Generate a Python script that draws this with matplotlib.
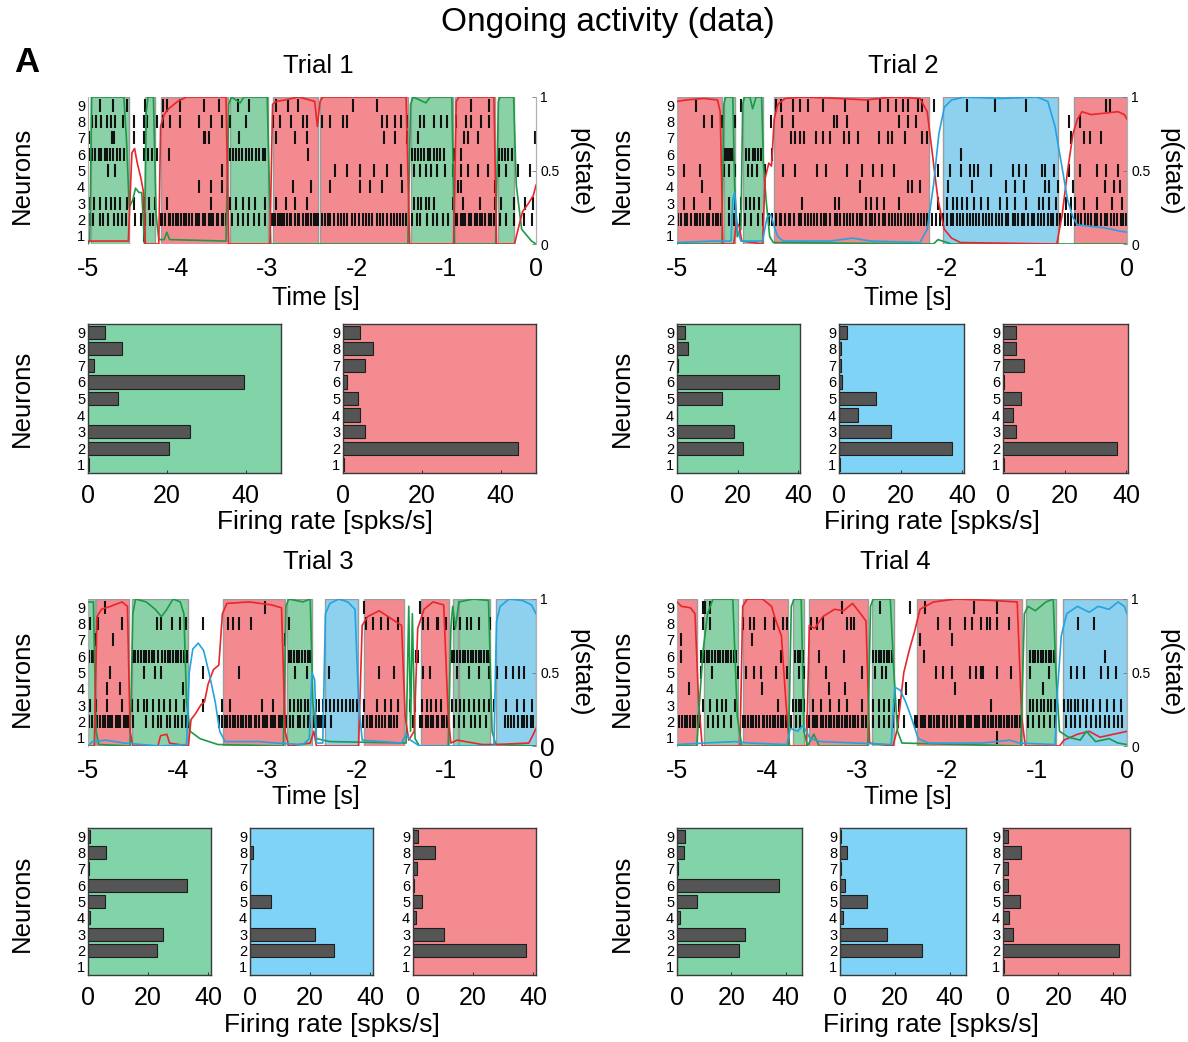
import numpy as np
import matplotlib.pyplot as plt

plt.rcParams['font.family'] = ['Liberation Sans', 'DejaVu Sans']

W, H = 1188, 1042

# state colours (shading / panel background) and p(state) line colours
SHADE = {'g': '#8bd1a7', 'r': '#f38a8f', 'b': '#8dd1ee'}
PANEL = {'g': '#80d4a8', 'r': '#f38b90', 'b': '#7fd3f6'}
LINE = {'g': '#1c9a45', 'r': '#e8262b', 'b': '#25a3e0'}

neurons = [1, 2, 3, 4, 5, 6, 7, 8, 9]
time_ticks = [-5, -4, -3, -2, -1, 0]

# ---------------- Trial 1 ----------------
t1_states = [(-4.97, -4.54, 'g'), (-4.36, -4.25, 'g'), (-4.19, -3.44, 'r'), (-3.42, -2.99, 'g'),
             (-2.94, -2.43, 'r'), (-2.41, -1.43, 'r'), (-1.40, -0.93, 'g'), (-0.90, -0.46, 'r'),
             (-0.42, -0.24, 'g')]
t1_spikes = {
    9: [-4.87, -4.72, -4.57, -4.36, -4.16, -4.12, -3.97, -3.71, -3.54, -3.33, -3.20, -2.90, -2.77,
        -2.66, -2.04, -1.77, -0.72, -0.52],
    8: [-4.96, -4.91, -4.85, -4.79, -4.74, -4.70, -4.61, -4.49, -4.38, -4.34, -4.23, -4.16, -4.08,
        -3.97, -3.76, -3.63, -3.51, -3.41, -3.24, -2.94, -2.86, -2.73, -2.60, -2.56, -2.39, -2.30,
        -2.15, -2.11, -1.72, -1.66, -1.57, -1.51, -1.44, -1.29, -1.25, -1.14, -1.06, -0.99, -0.89,
        -0.78, -0.72, -0.61, -0.52],
    7: [-4.99, -4.73, -4.71, -4.49, -4.37, -3.71, -3.69, -3.65, -3.31, -2.90, -2.69, -2.56, -1.70,
        -1.57, -1.44, -1.32, -0.80, -0.76, -0.65, -0.01],
    6: [-4.99, -4.96, -4.92, -4.88, -4.85, -4.81, -4.79, -4.75, -4.72, -4.68, -4.64, -4.60, -4.37,
        -4.33, -4.29, -4.23, -4.10, -3.41, -3.38, -3.35, -3.31, -3.28, -3.24, -3.20, -3.17, -3.13,
        -3.09, -3.05, -3.02, -2.54, -1.38, -1.35, -1.32, -1.28, -1.25, -1.21, -1.18, -1.14, -1.11,
        -1.07, -1.03, -0.91, -0.84, -0.41, -0.38, -0.35, -0.31, -0.27],
    5: [-4.78, -4.70, -3.50, -2.24, -2.11, -1.96, -1.81, -1.66, -1.51, -1.36, -1.29, -1.23, -1.17,
        -1.10, -1.02, -0.93, -0.84, -0.76, -0.65, -0.54, -0.41, -0.33, -0.20, -0.07],
    4: [-3.76, -3.63, -3.50, -2.71, -2.51, -2.30, -1.96, -1.85, -1.72, -1.49, -0.87, -0.84, -0.46],
    3: [-4.99, -4.93, -4.87, -4.80, -4.74, -4.70, -4.64, -4.57, -4.49, -4.38, -4.32, -4.25, -4.12,
        -3.63, -3.41, -3.35, -3.27, -3.20, -3.14, -3.03, -2.90, -2.79, -2.69, -2.56, -1.36, -1.32,
        -1.28, -1.23, -1.19, -1.14, -0.93, -0.82, -0.63, -0.46, -0.39, -0.24, -0.12, -0.03],
    2: [-4.98, -4.94, -4.87, -4.83, -4.78, -4.71, -4.67, -4.62, -4.58, -4.47, -4.41, -4.36, -4.31,
        -4.27, -4.19, -4.17, -4.14, -4.10, -4.08, -4.05, -4.02, -4.00, -3.96, -3.93, -3.91, -3.87,
        -3.84, -3.80, -3.78, -3.76, -3.72, -3.69, -3.65, -3.63, -3.60, -3.56, -3.55, -3.51, -3.49,
        -3.46, -3.39, -3.33, -3.27, -3.21, -3.15, -3.09, -3.03, -2.96, -2.94, -2.91, -2.88, -2.86,
        -2.83, -2.81, -2.78, -2.75, -2.73, -2.69, -2.66, -2.64, -2.60, -2.57, -2.55, -2.51, -2.48,
        -2.45, -2.43, -2.39, -2.36, -2.32, -2.30, -2.26, -2.21, -2.18, -2.14, -2.11, -2.05, -2.02,
        -1.98, -1.93, -1.90, -1.86, -1.83, -1.78, -1.74, -1.71, -1.66, -1.62, -1.59, -1.55, -1.52,
        -1.48, -1.45, -1.38, -1.33, -1.30, -1.22, -1.15, -1.10, -1.04, -0.98, -0.90, -0.88, -0.84,
        -0.81, -0.79, -0.75, -0.72, -0.68, -0.66, -0.62, -0.60, -0.57, -0.53, -0.50, -0.47, -0.40,
        -0.33, -0.25, -0.13, -0.05],
    1: [-4.37],
}
t1_p = {
    'g': [(-5.0, 0.0), (-4.98, 0.02), (-4.96, 1.0), (-4.60, 1.0), (-4.57, 0.7), (-4.54, 0.25),
          (-4.50, 0.3), (-4.47, 0.38), (-4.43, 0.35), (-4.40, 0.35), (-4.37, 0.0), (-4.35, 0.9),
          (-4.33, 1.0), (-4.27, 1.0), (-4.24, 0.2), (-4.21, 0.03), (-4.15, 0.03), (-4.12, 0.08),
          (-4.09, 0.03), (-3.46, 0.02), (-3.43, 0.95), (-3.40, 1.0), (-3.30, 0.96), (-3.26, 1.0),
          (-3.00, 1.0), (-2.96, 0.0), (-1.43, 0.0), (-1.40, 0.95), (-1.37, 1.0), (-1.23, 0.96),
          (-1.18, 1.0), (-0.94, 1.0), (-0.91, 0.0), (-0.45, 0.0), (-0.42, 0.97), (-0.40, 1.0),
          (-0.25, 1.0), (-0.22, 0.4), (-0.16, 0.1), (-0.05, 0.02), (0.0, 0.0)],
    'r': [(-5.0, 0.02), (-4.55, 0.02), (-4.51, 0.62), (-4.48, 0.65), (-4.45, 0.55), (-4.41, 0.45),
          (-4.38, 0.35), (-4.36, 0.0), (-4.21, 0.0), (-4.19, 0.8), (-4.15, 0.88), (-4.10, 0.92),
          (-4.0, 0.97), (-3.90, 1.0), (-3.46, 1.0), (-3.43, 0.0), (-2.97, 0.0), (-2.94, 0.95),
          (-2.90, 0.97), (-2.80, 0.98), (-2.65, 1.0), (-2.47, 0.97), (-2.44, 0.8), (-2.41, 0.97),
          (-2.38, 1.0), (-1.45, 1.0), (-1.41, 0.0), (-0.92, 0.0), (-0.89, 0.97), (-0.86, 1.0),
          (-0.47, 1.0), (-0.44, 0.0), (-0.24, 0.0), (-0.20, 0.1), (-0.15, 0.22), (-0.08, 0.28),
          (-0.03, 0.33), (0.0, 0.4)],
}
t1_rates = {
    'g': [0.3, 20.6, 25.8, 0.0, 7.6, 39.5, 1.5, 8.6, 4.4],
    'r': [0.2, 44.5, 5.6, 4.3, 3.9, 1.1, 5.7, 7.7, 4.4],
}

# ---------------- Trial 2 ----------------
t2_states = [(-5.0, -4.50, 'r'), (-4.48, -4.36, 'g'), (-4.27, -4.05, 'g'), (-3.92, -2.20, 'r'),
             (-2.05, -0.77, 'b'), (-0.59, 0.0, 'r')]
t2_spikes = {
    9: [-4.79, -4.29, -3.90, -3.84, -3.71, -3.63, -3.55, -3.38, -3.13, -2.88, -2.74, -2.66, -2.57,
        -2.49, -2.43, -2.32, -2.28, -2.14, -1.78, -1.47, -1.12, -0.23, -0.19],
    8: [-4.70, -4.61, -4.50, -4.36, -3.96, -3.83, -3.71, -3.26, -3.22, -3.11, -2.53, -2.43, -2.34,
        -0.64, -0.52],
    7: [-3.73, -3.69, -3.63, -3.59, -3.46, -3.38, -3.30, -3.15, -3.09, -2.99, -2.76, -2.66, -2.61,
        -2.47, -2.28, -2.22, -0.62, -0.48, -0.41, -0.29],
    6: [-4.48, -4.46, -4.44, -4.42, -4.40, -4.38, -4.23, -4.20, -4.16, -4.13, -4.10, -4.07, -3.94,
        -1.85],
    5: [-4.92, -4.75, -4.48, -4.42, -4.36, -4.21, -4.17, -4.11, -4.02, -3.82, -3.69, -3.44, -3.34,
        -3.11, -2.95, -2.82, -2.72, -2.59, -2.10, -1.97, -1.85, -1.74, -1.70, -1.66, -1.51, -1.27,
        -1.20, -1.12, -0.95, -0.91, -0.81, -0.64, -0.52, -0.33, -0.23, -0.10],
    4: [-4.72, -2.97, -2.43, -2.39, -2.30, -1.99, -1.72, -1.35, -1.24, -1.14, -0.91, -0.87, -0.77,
        -0.60, -0.25, -0.15, -0.08],
    3: [-4.92, -4.81, -4.63, -4.42, -4.36, -4.29, -4.23, -4.19, -4.15, -4.09, -3.61, -3.24, -3.20,
        -2.90, -2.84, -2.78, -2.70, -2.53, -2.10, -2.00, -1.93, -1.89, -1.83, -1.78, -1.70, -1.62,
        -1.54, -1.41, -1.33, -1.24, -1.12, -0.98, -0.93, -0.87, -0.79, -0.68, -0.62, -0.58, -0.48,
        -0.33, -0.17, -0.06],
    2: [-4.99, -4.96, -4.91, -4.89, -4.85, -4.80, -4.78, -4.74, -4.71, -4.67, -4.64, -4.60, -4.57,
        -4.55, -4.51, -4.42, -4.37, -4.30, -4.25, -4.18, -4.10, -4.05, -3.98, -3.95, -3.90, -3.86,
        -3.84, -3.80, -3.76, -3.74, -3.70, -3.65, -3.62, -3.58, -3.55, -3.51, -3.48, -3.45, -3.40,
        -3.37, -3.34, -3.30, -3.25, -3.22, -3.19, -3.15, -3.11, -3.08, -3.05, -3.00, -2.97, -2.94,
        -2.90, -2.86, -2.83, -2.80, -2.76, -2.71, -2.69, -2.65, -2.61, -2.58, -2.54, -2.51, -2.47,
        -2.43, -2.40, -2.37, -2.32, -2.29, -2.26, -2.22, -2.17, -2.12, -2.08, -2.04, -2.00, -1.96,
        -1.93, -1.89, -1.86, -1.82, -1.78, -1.75, -1.71, -1.68, -1.64, -1.60, -1.57, -1.53, -1.50,
        -1.46, -1.42, -1.39, -1.35, -1.32, -1.27, -1.25, -1.21, -1.17, -1.14, -1.10, -1.06, -1.03,
        -0.99, -0.96, -0.92, -0.88, -0.85, -0.82, -0.78, -0.74, -0.69, -0.66, -0.62, -0.58, -0.54,
        -0.51, -0.47, -0.43, -0.40, -0.36, -0.33, -0.29, -0.25, -0.22, -0.18, -0.15, -0.11, -0.07,
        -0.04, -0.01],
    1: [],
}
t2_p = {
    'g': [(-5.0, 0.0), (-4.50, 0.0), (-4.48, 0.95), (-4.46, 1.0), (-4.38, 1.0), (-4.36, 0.4),
          (-4.33, 0.05), (-4.29, 0.1), (-4.27, 0.95), (-4.25, 1.0), (-4.19, 1.0), (-4.16, 0.92),
          (-4.12, 1.0), (-4.06, 1.0), (-4.04, 0.55), (-4.01, 0.3), (-3.97, 0.05), (-3.93, 0.01),
          (-2.15, 0.0), (-2.10, 0.03), (-2.05, 0.02), (-1.95, 0.0), (0.0, 0.0)],
    'r': [(-5.0, 0.97), (-4.9, 0.98), (-4.7, 0.99), (-4.55, 0.98), (-4.52, 0.9), (-4.49, 0.0),
          (-4.37, 0.0), (-4.34, 0.15), (-4.31, 0.12), (-4.28, 0.02), (-4.05, 0.0), (-4.02, 0.45),
          (-3.98, 0.55), (-3.95, 0.53), (-3.92, 0.85), (-3.88, 0.95), (-3.80, 0.99), (-3.6, 1.0),
          (-3.2, 0.99), (-2.9, 0.98), (-2.6, 1.0), (-2.3, 0.99), (-2.22, 0.9), (-2.16, 0.6),
          (-2.10, 0.3), (-2.03, 0.1), (-1.95, 0.04), (-1.85, 0.01), (-0.78, 0.0), (-0.72, 0.2),
          (-0.66, 0.5), (-0.60, 0.75), (-0.55, 0.85), (-0.50, 0.9), (-0.40, 0.88), (-0.25, 0.89),
          (-0.10, 0.90), (-0.03, 0.88), (0.0, 0.85)],
    'b': [(-5.0, 0.01), (-4.6, 0.02), (-4.40, 0.02), (-4.38, 0.3), (-4.36, 0.35), (-4.33, 0.1),
          (-4.29, 0.02), (-4.05, 0.02), (-4.00, 0.18), (-3.96, 0.2), (-3.92, 0.12), (-3.88, 0.05),
          (-3.82, 0.02), (-3.3, 0.02), (-3.05, 0.04), (-2.85, 0.02), (-2.30, 0.01), (-2.22, 0.1),
          (-2.15, 0.4), (-2.09, 0.75), (-2.03, 0.93), (-1.95, 0.98), (-1.8, 1.0), (-1.4, 0.99),
          (-1.0, 1.0), (-0.88, 0.97), (-0.80, 0.8), (-0.73, 0.55), (-0.66, 0.3), (-0.60, 0.18),
          (-0.55, 0.13), (-0.40, 0.12), (-0.25, 0.11), (-0.10, 0.09), (0.0, 0.08)],
}
t2_rates = {
    'g': [0.0, 21.6, 18.9, 0.0, 14.7, 33.5, 0.2, 3.5, 2.6],
    'b': [0.2, 36.5, 16.8, 6.2, 12.1, 1.0, 0.6, 0.5, 2.5],
    'r': [0.3, 37.0, 4.1, 3.2, 5.8, 0.2, 6.7, 4.1, 4.3],
}

# ---------------- Trial 3 ----------------
t3_states = [(-5.0, -4.92, 'g'), (-4.91, -4.54, 'r'), (-4.51, -3.88, 'g'), (-3.49, -2.80, 'r'),
             (-2.78, -2.50, 'g'), (-2.36, -1.99, 'b'), (-1.92, -1.47, 'r'), (-1.28, -0.97, 'r'),
             (-0.93, -0.87, 'g'), (-0.86, -0.51, 'g'), (-0.45, 0.0, 'b')]
t3_spikes = {
    9: [-4.81, -3.03, -1.92, -1.30],
    8: [-4.98, -4.89, -4.62, -4.23, -4.19, -4.06, -3.97, -3.91, -3.72, -3.44, -3.38, -3.31, -3.18,
        -2.76, -1.90, -1.82, -1.73, -1.65, -1.54, -1.26, -1.20, -1.11, -1.09, -1.00, -0.92, -0.85,
        -0.77, -0.73, -0.64, -0.51],
    7: [-4.92, -4.72, -2.80],
    6: [-4.99, -4.96, -4.93, -4.50, -4.47, -4.44, -4.41, -4.38, -4.35, -4.32, -4.29, -4.26, -4.22,
        -4.17, -4.14, -4.11, -4.08, -4.05, -4.02, -3.99, -3.96, -3.93, -3.90, -2.76, -2.73, -2.70,
        -2.67, -2.64, -2.61, -2.58, -2.55, -2.52, -1.34, -1.32, -0.94, -0.91, -0.88, -0.85, -0.82,
        -0.79, -0.76, -0.73, -0.70, -0.67, -0.64, -0.61, -0.58, -0.55, -0.52],
    5: [-4.76, -4.37, -4.25, -4.19, -3.72, -3.31, -2.69, -2.56, -2.31, -1.75, -1.58, -1.26, -1.18,
        -0.88, -0.75, -0.64, -0.53, -0.43, -0.34, -0.26, -0.19, -0.13],
    4: [-4.79, -4.64, -3.94],
    3: [-4.98, -4.91, -4.79, -4.62, -4.51, -4.44, -4.38, -4.34, -4.27, -4.21, -4.15, -4.08, -4.02,
        -3.93, -3.72, -3.50, -3.42, -3.06, -2.93, -2.74, -2.70, -2.66, -2.62, -2.58, -2.54, -2.46,
        -2.42, -2.38, -2.34, -2.30, -2.26, -2.21, -2.16, -2.12, -2.08, -2.04, -2.00, -1.92, -1.77,
        -1.69, -1.62, -1.54, -1.41, -1.35, -1.27, -1.22, -1.17, -1.12, -1.06, -0.94, -0.89, -0.85,
        -0.80, -0.75, -0.69, -0.64, -0.58, -0.53, -0.47, -0.34, -0.21, -0.13, -0.04],
    2: [-4.99, -4.96, -4.92, -4.90, -4.87, -4.83, -4.81, -4.78, -4.75, -4.73, -4.69, -4.67, -4.64,
        -4.60, -4.58, -4.55, -4.53, -4.50, -4.35, -4.27, -4.22, -4.18, -4.12, -4.08, -4.03, -3.99,
        -3.95, -3.91, -3.88, -3.54, -3.51, -3.47, -3.45, -3.42, -3.38, -3.36, -3.33, -3.29, -3.27,
        -3.24, -3.20, -3.18, -3.14, -3.12, -3.09, -3.05, -3.03, -3.00, -2.96, -2.94, -2.91, -2.87,
        -2.85, -2.82, -2.79, -2.75, -2.71, -2.66, -2.63, -2.59, -2.55, -2.52, -2.48, -2.46, -2.44,
        -2.42, -2.40, -2.38, -2.36, -2.29, -1.93, -1.89, -1.85, -1.83, -1.79, -1.75, -1.72, -1.69,
        -1.64, -1.62, -1.58, -1.55, -1.37, -1.30, -1.27, -1.23, -1.21, -1.17, -1.15, -1.11, -1.09,
        -1.05, -1.03, -0.99, -0.92, -0.86, -0.80, -0.73, -0.68, -0.62, -0.56, -0.35, -0.31, -0.28,
        -0.24, -0.20, -0.16, -0.13, -0.10, -0.06, -0.03],
    1: [],
}
t3_p = {
    'g': [(-5.0, 0.98), (-4.94, 0.98), (-4.91, 0.1), (-4.88, 0.01), (-4.53, 0.0), (-4.50, 0.9),
          (-4.47, 1.0), (-4.35, 0.98), (-4.25, 0.93), (-4.18, 0.88), (-4.12, 0.93), (-4.05, 1.0),
          (-3.97, 0.98), (-3.93, 0.9), (-3.90, 0.3), (-3.86, 0.1), (-3.75, 0.05), (-3.55, 0.01),
          (-2.82, 0.0), (-2.79, 0.95), (-2.76, 1.0), (-2.60, 0.98), (-2.52, 1.0), (-2.49, 0.3),
          (-2.45, 0.05), (-2.30, 0.03), (-1.45, 0.02), (-1.42, 0.95), (-1.40, 0.1), (-1.38, 0.9),
          (-1.35, 0.05), (-1.30, 0.0), (-0.98, 0.0), (-0.95, 0.8), (-0.93, 0.95), (-0.90, 0.8),
          (-0.86, 0.98), (-0.70, 1.0), (-0.53, 0.99), (-0.49, 0.1), (-0.45, 0.01), (0.0, 0.0)],
    'r': [(-5.0, 0.0), (-4.93, 0.0), (-4.90, 0.88), (-4.85, 0.93), (-4.75, 0.95), (-4.62, 0.98),
          (-4.56, 0.95), (-4.53, 0.1), (-4.50, 0.0), (-4.22, 0.0), (-4.19, 0.07), (-4.12, 0.08),
          (-4.09, 0.02), (-3.88, 0.0), (-3.85, 0.18), (-3.80, 0.22), (-3.74, 0.28), (-3.70, 0.3),
          (-3.66, 0.42), (-3.60, 0.52), (-3.54, 0.55), (-3.50, 0.9), (-3.45, 0.97), (-3.2, 0.98),
          (-2.95, 0.96), (-2.84, 0.94), (-2.80, 0.1), (-2.76, 0.0), (-2.52, 0.02), (-2.48, 0.1),
          (-2.45, 0.0), (-1.98, 0.0), (-1.94, 0.82), (-1.88, 0.88), (-1.75, 0.92), (-1.60, 0.86),
          (-1.50, 0.82), (-1.46, 0.2), (-1.42, 0.04), (-1.36, 0.1), (-1.32, 0.8), (-1.25, 0.93),
          (-1.15, 0.98), (-1.03, 0.96), (-0.98, 0.2), (-0.95, 0.02), (-0.88, 0.04), (-0.60, 0.01),
          (-0.45, 0.01), (-0.08, 0.02), (-0.03, 0.08), (0.0, 0.12)],
    'b': [(-5.0, 0.0), (-4.95, 0.03), (-4.80, 0.04), (-4.60, 0.02), (-4.2, 0.0), (-3.90, 0.01),
          (-3.87, 0.5), (-3.83, 0.66), (-3.77, 0.7), (-3.71, 0.65), (-3.65, 0.5), (-3.58, 0.3),
          (-3.53, 0.1), (-3.47, 0.03), (-3.1, 0.03), (-2.9, 0.02), (-2.6, 0.01), (-2.53, 0.05),
          (-2.50, 0.5), (-2.47, 0.45), (-2.45, 0.02), (-2.38, 0.02), (-2.35, 0.9), (-2.30, 0.97),
          (-2.2, 1.0), (-2.1, 0.98), (-2.02, 0.93), (-1.98, 0.3), (-1.94, 0.04), (-1.5, 0.02),
          (-1.45, 0.08), (-1.40, 0.04), (-1.3, 0.0), (-0.47, 0.0), (-0.44, 0.85), (-0.40, 0.95),
          (-0.30, 1.0), (-0.15, 0.99), (-0.05, 0.96), (0.0, 0.9)],
}
t3_rates = {
    'g': [0.0, 23.0, 25.0, 0.5, 5.6, 33.0, 0.3, 6.1, 0.5],
    'b': [0.0, 28.0, 21.5, 0.0, 7.0, 0.0, 0.0, 1.0, 0.0],
    'r': [0.0, 37.5, 10.2, 0.9, 3.0, 0.3, 1.2, 7.2, 1.7],
}

# ---------------- Trial 4 ----------------
t4_states = [(-5.0, -4.78, 'r'), (-4.70, -4.32, 'g'), (-4.27, -3.77, 'r'), (-3.71, -3.59, 'g'),
             (-3.53, -2.88, 'r'), (-2.83, -2.59, 'g'), (-2.33, -1.17, 'r'), (-1.12, -0.79, 'g'),
             (-0.71, 0.0, 'b')]
t4_spikes = {
    9: [-4.71, -4.69, -4.63, -3.17, -2.74, -2.41, -2.24, -1.70, -1.45],
    8: [-4.71, -4.63, -4.27, -4.19, -4.15, -4.02, -3.92, -3.82, -3.78, -3.51, -3.44, -3.38, -3.11,
        -3.07, -3.03, -2.10, -1.97, -1.80, -1.72, -1.62, -1.56, -1.52, -1.45, -1.31, -0.54, -0.37],
    7: [-4.96, -4.17, -2.30, -1.95],
    6: [-4.96, -4.73, -4.70, -4.67, -4.64, -4.61, -4.58, -4.55, -4.52, -4.49, -4.46, -4.43, -4.40,
        -4.37, -4.34, -3.84, -3.69, -3.66, -3.63, -3.60, -3.42, -3.15, -2.82, -2.79, -2.76, -2.73,
        -2.70, -2.67, -2.64, -2.61, -2.26, -1.08, -1.05, -1.02, -0.99, -0.96, -0.93, -0.90, -0.87,
        -0.84, -0.81, -0.25],
    5: [-4.73, -4.61, -4.32, -4.23, -4.15, -4.07, -3.90, -3.78, -3.65, -3.59, -3.34, -2.95, -2.80,
        -2.72, -2.68, -2.12, -2.05, -1.95, -1.74, -1.68, -1.62, -1.60, -1.45, -1.29, -1.08, -0.87,
        -0.62, -0.56, -0.48, -0.29, -0.21, -0.12],
    4: [-4.87, -4.06, -3.31, -3.13, -2.46, -1.91, -0.93],
    3: [-4.71, -4.63, -4.56, -4.50, -4.46, -4.36, -3.88, -3.71, -3.68, -3.65, -3.62, -3.59, -3.49,
        -3.40, -3.30, -3.20, -3.11, -2.95, -2.82, -2.76, -2.70, -2.64, -2.59, -2.53, -1.51, -1.08,
        -1.04, -1.00, -0.96, -0.92, -0.88, -0.84, -0.80, -0.70, -0.66, -0.62, -0.58, -0.54, -0.49,
        -0.44, -0.38, -0.30, -0.22, -0.14, -0.07],
    2: [-4.98, -4.95, -4.91, -4.89, -4.86, -4.82, -4.80, -4.77, -4.74, -4.66, -4.60, -4.55, -4.48,
        -4.40, -4.27, -4.25, -4.21, -4.18, -4.16, -4.12, -4.09, -4.05, -4.03, -4.00, -3.97, -3.93,
        -3.91, -3.88, -3.84, -3.82, -3.79, -3.73, -3.68, -3.63, -3.56, -3.53, -3.49, -3.47, -3.44,
        -3.40, -3.38, -3.35, -3.31, -3.29, -3.26, -3.22, -3.20, -3.17, -3.13, -3.11, -3.08, -3.04,
        -3.02, -2.99, -2.95, -2.93, -2.90, -2.82, -2.76, -2.70, -2.64, -2.60, -2.55, -2.48, -2.36,
        -2.33, -2.29, -2.27, -2.24, -2.20, -2.18, -2.15, -2.11, -2.09, -2.05, -2.03, -2.00, -1.96,
        -1.94, -1.91, -1.87, -1.85, -1.82, -1.78, -1.76, -1.73, -1.69, -1.67, -1.64, -1.60, -1.58,
        -1.55, -1.51, -1.49, -1.46, -1.42, -1.40, -1.37, -1.33, -1.31, -1.28, -1.24, -1.22, -1.19,
        -1.10, -1.04, -0.98, -0.92, -0.86, -0.80, -0.68, -0.62, -0.58, -0.52, -0.46, -0.40, -0.35,
        -0.30, -0.25, -0.20, -0.15, -0.10, -0.06],
    1: [-1.45],
}
t4_p = {
    'r': [(-5.0, 0.98), (-4.95, 0.95), (-4.85, 0.94), (-4.80, 0.9), (-4.76, 0.3), (-4.72, 0.0),
          (-4.30, 0.0), (-4.27, 0.95), (-4.22, 1.0), (-4.05, 1.0), (-3.95, 0.95), (-3.90, 0.85),
          (-3.84, 0.75), (-3.79, 0.3), (-3.75, 0.0), (-3.56, 0.0), (-3.53, 0.82), (-3.47, 0.8),
          (-3.38, 0.88), (-3.25, 0.93), (-3.15, 0.92), (-3.05, 0.97), (-2.96, 0.9), (-2.90, 0.85),
          (-2.86, 0.02), (-2.60, 0.0), (-2.55, 0.12), (-2.48, 0.5), (-2.42, 0.65), (-2.36, 0.78),
          (-2.30, 0.93), (-2.15, 0.98), (-1.9, 1.0), (-1.5, 0.99), (-1.22, 0.98), (-1.17, 0.2),
          (-1.13, 0.0), (-0.75, 0.0), (-0.70, 0.04), (-0.55, 0.08), (-0.42, 0.1), (-0.30, 0.06),
          (-0.15, 0.08), (0.0, 0.1)],
    'g': [(-5.0, 0.0), (-4.78, 0.0), (-4.75, 0.3), (-4.71, 0.65), (-4.66, 0.9), (-4.60, 1.0),
          (-4.38, 1.0), (-4.33, 0.2), (-4.28, 0.0), (-3.76, 0.0), (-3.73, 0.95), (-3.70, 1.0),
          (-3.62, 1.0), (-3.59, 0.1), (-3.55, 0.0), (-3.48, 0.08), (-3.42, 0.0), (-2.88, 0.0),
          (-2.85, 0.95), (-2.82, 1.0), (-2.63, 1.0), (-2.59, 0.5), (-2.55, 0.1), (-2.50, 0.02),
          (-1.18, 0.0), (-1.14, 0.9), (-1.10, 0.95), (-1.02, 0.92), (-0.90, 0.98), (-0.82, 1.0),
          (-0.79, 0.5), (-0.75, 0.1), (-0.65, 0.06), (-0.52, 0.04), (-0.45, 0.1), (-0.35, 0.03),
          (-0.20, 0.05), (-0.10, 0.02), (0.0, 0.01)],
    'b': [(-5.0, 0.01), (-4.7, 0.02), (-4.35, 0.03), (-4.2, 0.02), (-3.78, 0.01), (-3.74, 0.12),
          (-3.66, 0.1), (-3.60, 0.14), (-3.52, 0.05), (-3.4, 0.03), (-3.0, 0.02), (-2.62, 0.01),
          (-2.58, 0.4), (-2.52, 0.38), (-2.46, 0.3), (-2.40, 0.2), (-2.32, 0.05), (-2.2, 0.02),
          (-1.6, 0.02), (-1.3, 0.04), (-1.2, 0.02), (-0.80, 0.01), (-0.77, 0.4), (-0.73, 0.75),
          (-0.67, 0.9), (-0.55, 0.95), (-0.42, 0.91), (-0.32, 0.95), (-0.20, 0.93), (-0.10, 0.98),
          (-0.03, 0.95), (0.0, 0.9)],
}
t4_rates = {
    'g': [0.0, 22.8, 24.9, 1.1, 7.3, 37.7, 0.2, 2.5, 2.8],
    'b': [0.0, 29.8, 17.2, 1.2, 9.7, 2.0, 0.3, 2.4, 0.5],
    'r': [0.3, 42.0, 3.7, 2.0, 6.0, 1.8, 1.8, 6.4, 1.7],
}


def box(x0, y0, x1, y1):
    return [x0 / W, 1 - y1 / H, (x1 - x0) / W, (y1 - y0) / H]


def ftext(x, y, s, **kw):
    fig.text(x / W, 1 - y / H, s, ha='center', va='center', **kw)


def raster(rect, states, spikes, plines, big_zero=False):
    ax = fig.add_axes(box(*rect))
    for a, b, s in states:
        ax.axvspan(a, b, facecolor=SHADE[s], edgecolor='#9c9c9c', lw=1.0, zorder=0)
    for n in neurons:
        ax.vlines(spikes[n], n - 0.4, n + 0.4, color='#111111', lw=1.5, zorder=2)
    ax.set_xlim(-5, 0)
    ax.set_ylim(0.5, 9.5)
    ax.set_yticks(neurons)
    ax.tick_params(axis='y', length=0, labelsize=10.5, pad=2)
    ax.set_xticks(time_ticks)
    ax.set_xticklabels([str(t) for t in time_ticks])
    ax.tick_params(axis='x', length=0, labelsize=18, pad=9)
    for side in ['top', 'bottom']:
        ax.spines[side].set_visible(False)
    ax.spines['left'].set_color('#b0b0b0')
    ax.spines['right'].set_color('#b0b0b0')

    ax2 = ax.twinx()
    for s, pts in plines.items():
        tt = [p[0] for p in pts]
        pp = [p[1] for p in pts]
        ax2.plot(tt, pp, color=LINE[s], lw=1.2)
    ax2.set_ylim(0, 1)
    ax2.set_yticks([0, 0.5, 1])
    ax2.set_yticklabels(['0', '0.5', '1'])
    ax2.tick_params(axis='y', direction='in', length=3, width=0.6, color='#777777',
                    labelsize=10, pad=3)
    if big_zero:
        ax2.get_yticklabels()[0].set_fontsize(19)
    for side in ['top', 'bottom', 'left']:
        ax2.spines[side].set_visible(False)
    ax2.spines['right'].set_color('#b0b0b0')
    return ax


def rates(rects, rate_sets, xmax):
    for rect, (s, vals) in zip(rects, rate_sets):
        ax = fig.add_axes(box(*rect))
        ax.set_facecolor(PANEL[s])
        ax.barh(neurons, vals, height=0.8, color='#555555', edgecolor='#1e1e1e', lw=0.8)
        ax.set_xlim(0, xmax)
        ax.set_ylim(0.5, 9.5)
        ax.set_yticks(neurons)
        ax.set_xticks([0, 20, 40])
        ax.tick_params(axis='y', length=0, labelsize=10.5, pad=2)
        ax.tick_params(axis='x', direction='in', length=2, width=0.5, labelsize=18, pad=8)
        for sp in ax.spines.values():
            sp.set_color('#3a3a3a')
            sp.set_linewidth(1.0)


fig = plt.figure(figsize=(W / 100, H / 100), dpi=100)

ftext(608, 22, 'Ongoing activity (data)', fontsize=24)
fig.text(14 / W, 1 - 62 / H, 'A', ha='left', va='center', fontsize=25, fontweight='bold',
         family=['Liberation Sans Narrow', 'Liberation Sans', 'DejaVu Sans'])

# trial titles
ftext(318, 66, 'Trial 1', fontsize=18.5)
ftext(903, 66, 'Trial 2', fontsize=18.5)
ftext(318, 562, 'Trial 3', fontsize=18.5)
ftext(895, 562, 'Trial 4', fontsize=18.5)

raster((88, 97, 536, 244), t1_states, t1_spikes, t1_p)
raster((677, 97, 1127, 244), t2_states, t2_spikes, t2_p)
raster((88, 599, 536, 746), t3_states, t3_spikes, t3_p, big_zero=True)
raster((677, 599, 1127, 746), t4_states, t4_spikes, t4_p)

rates([(88, 324, 281, 473), (343, 324, 536, 473)],
      [('g', t1_rates['g']), ('r', t1_rates['r'])], 49)
rates([(677, 324, 800, 473), (839, 324, 964, 473), (1003, 324, 1128, 473)],
      [('g', t2_rates['g']), ('b', t2_rates['b']), ('r', t2_rates['r'])], 40.5)
rates([(88, 828, 211, 975), (250, 828, 373, 975), (413, 828, 536, 975)],
      [('g', t3_rates['g']), ('b', t3_rates['b']), ('r', t3_rates['r'])], 41)
rates([(677, 828, 802, 975), (840, 828, 966, 975), (1003, 828, 1130, 975)],
      [('g', t4_rates['g']), ('b', t4_rates['b']), ('r', t4_rates['r'])], 46)

# axis labels
for x, y in [(22, 175), (22, 398), (22, 678), (22, 903), (622, 175), (622, 398), (622, 678),
             (622, 903)]:
    ftext(x, y, 'Neurons', fontsize=18.5, rotation=90)
for x, y in [(580, 172), (1170, 172), (580, 673), (1170, 673)]:
    ftext(x, y, 'p(state)', fontsize=18.5, rotation=270)
for x, y in [(316, 298), (908, 298), (316, 797), (908, 797)]:
    ftext(x, y, 'Time [s]', fontsize=18)
for x, y in [(325, 522), (932, 522), (332, 1025), (931, 1025)]:
    ftext(x, y, 'Firing rate [spks/s]', fontsize=19)

fig.savefig('out.png', dpi=100)
